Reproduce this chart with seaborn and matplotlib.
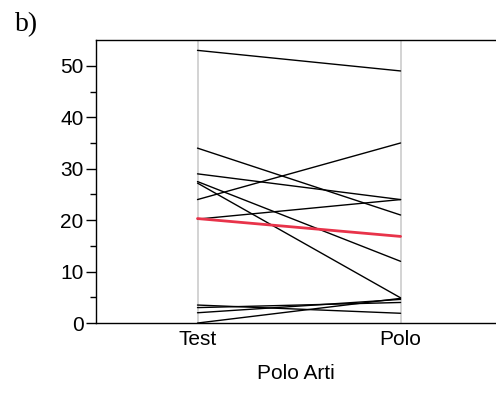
import matplotlib.pyplot as plt
import pandas as pd
import seaborn as sns

conditions = ["Test", "Polo"]
test_vals = [53, 34, 29, 27.5, 27.2, 24, 20.2, 3.5, 3.0, 2.0, 0.0]
polo_vals = [49, 21, 24, 12, 4.9, 35, 24, 1.9, 4.0, 4.6, 4.8]

subjects = list(range(len(test_vals)))
df = pd.DataFrame({
    "subject": subjects * 2,
    "cond": [conditions[0]] * len(test_vals) + [conditions[1]] * len(polo_vals),
    "value": test_vals + polo_vals,
})
means = df.groupby("cond", sort=False)["value"].mean().reset_index()

sns.set_style("ticks", {"text.color": "black", "axes.labelcolor": "black",
                        "xtick.color": "black", "ytick.color": "black",
                        "axes.edgecolor": "black"})
plt.rcParams["font.family"] = ["Liberation Sans", "DejaVu Sans"]

fig = plt.figure(figsize=(4.96, 3.93), dpi=100)
ax = fig.add_axes([0.1935, 0.178, 0.8065, 0.72])

for c in conditions:
    ax.axvline(c, color="#c8c8c8", lw=1.1, zorder=0)

sns.lineplot(data=df, x="cond", y="value", units="subject", estimator=None,
             color="black", lw=1.0, ax=ax, legend=False)
sns.lineplot(data=means, x="cond", y="value", color="#e8334a", lw=2.0, ax=ax)

ax.set_xlim(-0.5, 1.47)
ax.set_ylim(0, 55)
ax.set_yticks(range(0, 51, 10))
ax.set_yticks(range(5, 55, 10), minor=True)
ax.tick_params(axis="y", which="major", length=7, width=1.0, labelsize=15, direction="out", pad=2)
ax.tick_params(axis="y", which="minor", length=4, width=1.0)
ax.tick_params(axis="x", length=0, labelsize=15, pad=5)
ax.set_xlabel("Polo Arti", fontsize=15, labelpad=11)
ax.set_ylabel("")
for s in ["left", "bottom", "top"]:
    ax.spines[s].set_linewidth(1.0)
ax.spines["right"].set_visible(False)

fig.text(0.03, 0.92, "b)", fontsize=20, family="Liberation Serif", color="black")

fig.savefig("out.png", dpi=100)
